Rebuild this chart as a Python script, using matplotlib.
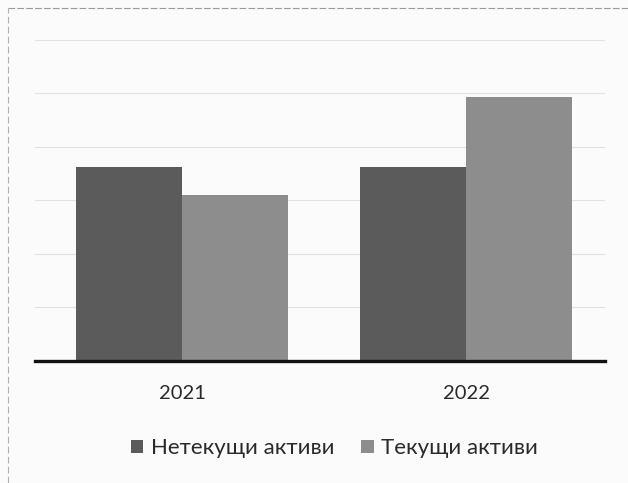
import matplotlib
matplotlib.use('agg')
import matplotlib.pyplot as plt
import numpy as np
from matplotlib.lines import Line2D

years = ['2021', '2022']
non_current = [3630, 3630]
current = [3100, 4930]
series_names = ['Нетекущи активи', 'Текущи активи']

plt.rcParams['font.family'] = ['Lato', 'DejaVu Sans']

fig = plt.figure(figsize=(6.28, 4.83), dpi=100)
fig.patch.set_facecolor('#fbfbfb')
ax = fig.add_axes([0.0557, 0.2526, 0.9076, 0.6646])
ax.set_facecolor('none')

x = np.arange(len(years))
w = 0.373
ax.bar(x - w / 2, non_current, w, color='#5b5b5b', label=series_names[0], zorder=2)
ax.bar(x + w / 2, current, w, color='#8d8d8d', label=series_names[1], zorder=2)

ax.set_xlim(-0.518, 1.489)
ax.set_ylim(0, 6000)
ax.set_yticks(np.arange(1000, 6001, 1000))
ax.yaxis.grid(True, color='#e2e2e2', linewidth=0.8, zorder=0)
ax.tick_params(axis='y', left=False, labelleft=False)
ax.tick_params(axis='x', bottom=False, labelsize=14.5, labelcolor='#2a2a2a', pad=14)
ax.set_xticks(x)
ax.set_xticklabels(years)
for s in ['top', 'right', 'left']:
    ax.spines[s].set_visible(False)
ax.spines['bottom'].set_color('#111111')
ax.spines['bottom'].set_linewidth(2.4)
ax.spines['bottom'].set_zorder(3)

leg = fig.legend(loc='center', bbox_to_anchor=(0.533, 0.072), ncol=2, frameon=False,
                 fontsize=16, handlelength=0.55, handleheight=0.55, handletextpad=0.35,
                 columnspacing=1.2)
for t in leg.get_texts():
    t.set_color('#2a2a2a')

# outer frame of the chart block
fig.add_artist(Line2D([0.013, 1.0], [0.983, 0.983], color='#9a9a9a', linewidth=0.8, linestyle=(0, (6, 2))))
fig.add_artist(Line2D([0.013, 0.013], [0.0, 0.983], color='#b0b0b0', linewidth=0.8, linestyle=(0, (6, 3))))

fig.savefig('out.png', dpi=100, facecolor=fig.get_facecolor())
